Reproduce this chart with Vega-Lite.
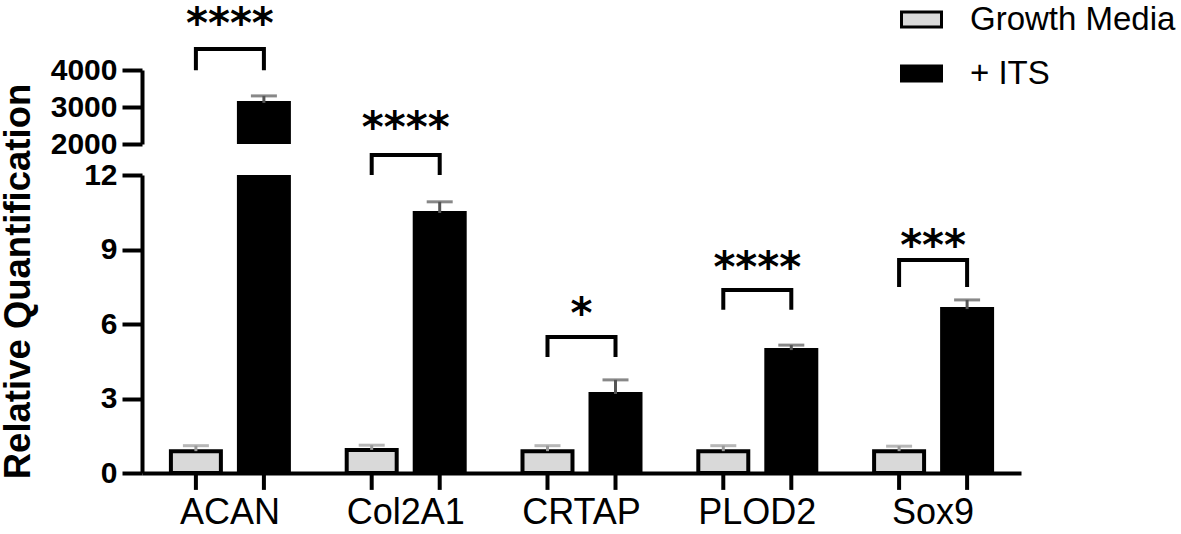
{
  "$schema": "https://vega.github.io/schema/vega-lite/v6.json",
  "background": "white",
  "autosize": {"type": "none"},
  "padding": {"left": 142, "top": 70, "right": 1039, "bottom": 464},
  "bounds": "flush",
  "spacing": 31,
  "config": {
    "font": "Liberation Sans",
    "view": {"stroke": null},
    "axis": {"domainColor": "#000000", "domainWidth": 4, "labelColor": "#000000", "titleColor": "#000000", "grid": false},
    "axisY": {"ticks": true, "tickSize": 20, "tickWidth": 4, "tickColor": "#000000", "tickOpacity": 1, "labelPadding": 5, "labelFontSize": 30, "labelFontWeight": "bold", "labelOverlap": false, "labelFlush": false, "titleFontSize": 36.5, "titleFontWeight": "bold", "titleAngle": -90, "titleAlign": "center", "titleBaseline": "middle"},
    "axisX": {"labelAngle": 0, "labelFontSize": 36, "ticks": false, "labelPadding": 22, "labelOverlap": false}
  },
  "datasets": {
    "bars": [
      {"gene": "ACAN", "treatment": "Growth Media", "mean": 0.88, "upper": 1.1},
      {"gene": "ACAN", "treatment": "+ ITS", "mean": 3110, "upper": 3300},
      {"gene": "Col2A1", "treatment": "Growth Media", "mean": 0.93, "upper": 1.12},
      {"gene": "Col2A1", "treatment": "+ ITS", "mean": 10.47, "upper": 10.92},
      {"gene": "CRTAP", "treatment": "Growth Media", "mean": 0.88, "upper": 1.1},
      {"gene": "CRTAP", "treatment": "+ ITS", "mean": 3.18, "upper": 3.75},
      {"gene": "PLOD2", "treatment": "Growth Media", "mean": 0.88, "upper": 1.1},
      {"gene": "PLOD2", "treatment": "+ ITS", "mean": 4.95, "upper": 5.15},
      {"gene": "Sox9", "treatment": "Growth Media", "mean": 0.88, "upper": 1.08},
      {"gene": "Sox9", "treatment": "+ ITS", "mean": 6.6, "upper": 6.97}
    ],
    "brackets": [
      {"gene": "ACAN", "treatment": "Growth Media", "y": 4050, "o": 1},
      {"gene": "ACAN", "treatment": "Growth Media", "y": 4570, "o": 2},
      {"gene": "ACAN", "treatment": "+ ITS", "y": 4570, "o": 3},
      {"gene": "ACAN", "treatment": "+ ITS", "y": 4050, "o": 4},
      {"gene": "Col2A1", "treatment": "Growth Media", "y": 12.08, "o": 1},
      {"gene": "Col2A1", "treatment": "Growth Media", "y": 12.81, "o": 2},
      {"gene": "Col2A1", "treatment": "+ ITS", "y": 12.81, "o": 3},
      {"gene": "Col2A1", "treatment": "+ ITS", "y": 12.08, "o": 4},
      {"gene": "CRTAP", "treatment": "Growth Media", "y": 4.75, "o": 1},
      {"gene": "CRTAP", "treatment": "Growth Media", "y": 5.48, "o": 2},
      {"gene": "CRTAP", "treatment": "+ ITS", "y": 5.48, "o": 3},
      {"gene": "CRTAP", "treatment": "+ ITS", "y": 4.75, "o": 4},
      {"gene": "PLOD2", "treatment": "Growth Media", "y": 6.65, "o": 1},
      {"gene": "PLOD2", "treatment": "Growth Media", "y": 7.37, "o": 2},
      {"gene": "PLOD2", "treatment": "+ ITS", "y": 7.37, "o": 3},
      {"gene": "PLOD2", "treatment": "+ ITS", "y": 6.65, "o": 4},
      {"gene": "Sox9", "treatment": "Growth Media", "y": 7.57, "o": 1},
      {"gene": "Sox9", "treatment": "Growth Media", "y": 8.58, "o": 2},
      {"gene": "Sox9", "treatment": "+ ITS", "y": 8.58, "o": 3},
      {"gene": "Sox9", "treatment": "+ ITS", "y": 7.57, "o": 4}
    ],
    "stars": [
      {"gene": "ACAN", "label": "****", "y": 5400},
      {"gene": "Col2A1", "label": "****", "y": 14.14},
      {"gene": "CRTAP", "label": "*", "y": 6.65},
      {"gene": "PLOD2", "label": "****", "y": 8.5},
      {"gene": "Sox9", "label": "***", "y": 9.4}
    ]
  },
  "vconcat": [
    {
      "width": 879,
      "height": 74,
      "layer": [
        {
          "data": {"name": "bars"},
          "mark": {"type": "bar", "clip": true, "stroke": "#000000", "strokeWidth": 4},
          "encoding": {
            "x": {"field": "gene", "type": "nominal", "axis": null, "scale": {"domain": ["ACAN", "Col2A1", "CRTAP", "PLOD2", "Sox9"], "paddingInner": 0, "paddingOuter": 0}},
            "xOffset": {"field": "treatment", "type": "nominal", "scale": {"domain": ["Growth Media", "+ ITS"], "paddingInner": 0.265, "paddingOuter": 0.425}},
            "y": {"field": "mean", "type": "quantitative", "scale": {"domain": [2000, 4000], "nice": false, "zero": false}, "axis": {"title": null, "values": [2000, 3000, 4000], "format": "d"}},
            "color": {"field": "treatment", "type": "nominal", "scale": {"domain": ["Growth Media", "+ ITS"], "range": ["#d9d9d9", "#000000"]}, "legend": {"orient": "none", "legendX": 758, "legendY": -72, "title": null, "labelFontSize": 33, "labelLimit": 400, "labelColor": "#000000", "symbolType": "M-1,-0.38H1V0.38H-1Z", "symbolSize": 1600, "symbolStrokeColor": "#000000", "symbolStrokeWidth": 3, "labelOffset": 27, "rowPadding": 15, "symbolOpacity": 1}}
          }
        },
        {
          "data": {"name": "bars"},
          "mark": {"type": "rule", "clip": true, "strokeWidth": 3},
          "encoding": {
            "x": {"field": "gene", "type": "nominal", "axis": null},
            "xOffset": {"field": "treatment", "type": "nominal"},
            "y": {"field": "mean", "type": "quantitative", "axis": {"title": null, "values": [2000, 3000, 4000], "format": "d"}},
            "y2": {"field": "upper"},
            "stroke": {"condition": {"test": "datum.treatment === 'Growth Media'", "value": "#999999"}, "value": "#555555"}
          }
        },
        {
          "data": {"name": "bars"},
          "mark": {"type": "tick", "clip": true, "orient": "horizontal", "thickness": 3, "size": 26},
          "encoding": {
            "x": {"field": "gene", "type": "nominal", "axis": null},
            "xOffset": {"field": "treatment", "type": "nominal"},
            "y": {"field": "upper", "type": "quantitative", "axis": {"title": null, "values": [2000, 3000, 4000], "format": "d"}},
            "color": {"condition": {"test": "datum.treatment === 'Growth Media'", "value": "#999999"}, "value": "#555555"}
          }
        },
        {
          "data": {"name": "brackets"},
          "transform": [{"filter": "datum.gene === 'ACAN'"}],
          "mark": {"type": "line", "color": "#000000", "strokeWidth": 4, "strokeCap": "square"},
          "encoding": {
            "x": {"field": "gene", "type": "nominal", "axis": null},
            "xOffset": {"field": "treatment", "type": "nominal"},
            "y": {"field": "y", "type": "quantitative", "axis": {"title": null, "values": [2000, 3000, 4000], "format": "d"}},
            "detail": {"field": "gene"},
            "order": {"field": "o", "type": "quantitative"}
          }
        },
        {
          "data": {"name": "stars"},
          "transform": [{"filter": "datum.gene === 'ACAN'"}],
          "mark": {"type": "text", "font": "DejaVu Sans", "fontWeight": "bold", "fontSize": 42, "baseline": "middle", "dy": 7, "color": "#000000"},
          "encoding": {
            "x": {"field": "gene", "type": "nominal", "axis": null},
            "y": {"field": "y", "type": "quantitative", "axis": {"title": null, "values": [2000, 3000, 4000], "format": "d"}},
            "text": {"field": "label"}
          }
        },
        {
          "mark": {"type": "tick", "orient": "horizontal", "thickness": 4, "size": 20, "color": "#000000"},
          "encoding": {
            "x": {"datum": "ACAN", "type": "nominal", "bandPosition": 0, "axis": null},
            "y": {"datum": 2000, "type": "quantitative", "axis": {"title": null, "values": [2000, 3000, 4000], "format": "d"}}
          }
        },
        {
          "mark": {"type": "tick", "orient": "horizontal", "thickness": 4, "size": 20, "xOffset": -10, "color": "#000000"},
          "encoding": {
            "x": {"datum": "ACAN", "type": "nominal", "bandPosition": 0, "axis": null},
            "y": {"datum": 3000, "type": "quantitative", "axis": {"title": null, "values": [2000, 3000, 4000], "format": "d"}}
          }
        },
        {
          "mark": {"type": "tick", "orient": "horizontal", "thickness": 4, "size": 20, "xOffset": -10, "color": "#000000"},
          "encoding": {
            "x": {"datum": "ACAN", "type": "nominal", "bandPosition": 0, "axis": null},
            "y": {"datum": 4000, "type": "quantitative", "axis": {"title": null, "values": [2000, 3000, 4000], "format": "d"}}
          }
        }
      ]
    },
    {
      "width": 879,
      "height": 298,
      "layer": [
        {
          "data": {"name": "bars"},
          "mark": {"type": "bar", "clip": true, "stroke": "#000000", "strokeWidth": 4},
          "encoding": {
            "x": {"field": "gene", "type": "nominal", "scale": {"domain": ["ACAN", "Col2A1", "CRTAP", "PLOD2", "Sox9"], "paddingInner": 0, "paddingOuter": 0}, "axis": {"title": null}},
            "xOffset": {"field": "treatment", "type": "nominal", "scale": {"domain": ["Growth Media", "+ ITS"], "paddingInner": 0.265, "paddingOuter": 0.425}},
            "y": {"field": "mean", "type": "quantitative", "scale": {"domain": [0, 12], "nice": false}, "axis": {"title": "Relative Quantification", "values": [0, 3, 6, 9, 12], "titleX": -124, "titleY": 106}},
            "color": {"field": "treatment", "type": "nominal", "scale": {"domain": ["Growth Media", "+ ITS"], "range": ["#d9d9d9", "#000000"]}, "legend": {"orient": "none", "legendX": 758, "legendY": -72, "title": null, "labelFontSize": 33, "labelLimit": 400, "labelColor": "#000000", "symbolType": "M-1,-0.38H1V0.38H-1Z", "symbolSize": 1600, "symbolStrokeColor": "#000000", "symbolStrokeWidth": 3, "labelOffset": 27, "rowPadding": 15, "symbolOpacity": 1}}
          }
        },
        {
          "data": {"name": "bars"},
          "mark": {"type": "rule", "clip": true, "strokeWidth": 3},
          "encoding": {
            "x": {"field": "gene", "type": "nominal", "axis": {"title": null}},
            "xOffset": {"field": "treatment", "type": "nominal"},
            "y": {"field": "mean", "type": "quantitative", "axis": {"title": "Relative Quantification", "values": [0, 3, 6, 9, 12], "titleX": -124, "titleY": 106}},
            "y2": {"field": "upper"},
            "stroke": {"condition": {"test": "datum.treatment === 'Growth Media'", "value": "#999999"}, "value": "#555555"}
          }
        },
        {
          "data": {"name": "bars"},
          "mark": {"type": "tick", "clip": true, "orient": "horizontal", "thickness": 3, "size": 26},
          "encoding": {
            "x": {"field": "gene", "type": "nominal", "axis": {"title": null}},
            "xOffset": {"field": "treatment", "type": "nominal"},
            "y": {"field": "upper", "type": "quantitative", "axis": {"title": "Relative Quantification", "values": [0, 3, 6, 9, 12], "titleX": -124, "titleY": 106}},
            "color": {"condition": {"test": "datum.treatment === 'Growth Media'", "value": "#999999"}, "value": "#555555"}
          }
        },
        {
          "data": {"name": "bars"},
          "mark": {"type": "rule", "strokeWidth": 4, "color": "#000000"},
          "encoding": {
            "x": {"field": "gene", "type": "nominal", "axis": {"title": null}},
            "xOffset": {"field": "treatment", "type": "nominal"},
            "y": {"datum": 0, "type": "quantitative", "axis": {"title": "Relative Quantification", "values": [0, 3, 6, 9, 12], "titleX": -124, "titleY": 106}},
            "y2": {"datum": -0.68}
          }
        },
        {
          "data": {"name": "brackets"},
          "transform": [{"filter": "datum.gene !== 'ACAN'"}],
          "mark": {"type": "line", "color": "#000000", "strokeWidth": 4, "strokeCap": "square"},
          "encoding": {
            "x": {"field": "gene", "type": "nominal", "axis": {"title": null}},
            "xOffset": {"field": "treatment", "type": "nominal"},
            "y": {"field": "y", "type": "quantitative", "axis": {"title": "Relative Quantification", "values": [0, 3, 6, 9, 12], "titleX": -124, "titleY": 106}},
            "detail": {"field": "gene"},
            "order": {"field": "o", "type": "quantitative"}
          }
        },
        {
          "data": {"name": "stars"},
          "transform": [{"filter": "datum.gene !== 'ACAN'"}],
          "mark": {"type": "text", "font": "DejaVu Sans", "fontWeight": "bold", "fontSize": 42, "baseline": "middle", "dy": 7, "color": "#000000"},
          "encoding": {
            "x": {"field": "gene", "type": "nominal", "axis": {"title": null}},
            "y": {"field": "y", "type": "quantitative", "axis": {"title": "Relative Quantification", "values": [0, 3, 6, 9, 12], "titleX": -124, "titleY": 106}},
            "text": {"field": "label"}
          }
        },
        {
          "mark": {"type": "tick", "orient": "horizontal", "thickness": 4, "size": 20, "color": "#000000"},
          "encoding": {
            "x": {"datum": "ACAN", "type": "nominal", "bandPosition": 0, "axis": {"title": null}},
            "y": {"datum": 12, "type": "quantitative", "axis": {"title": "Relative Quantification", "values": [0, 3, 6, 9, 12], "titleX": -124, "titleY": 106}}
          }
        },
        {
          "mark": {"type": "tick", "orient": "horizontal", "thickness": 4, "size": 20, "xOffset": -10, "color": "#000000"},
          "encoding": {
            "x": {"datum": "ACAN", "type": "nominal", "bandPosition": 0, "axis": {"title": null}},
            "y": {"datum": 9, "type": "quantitative", "axis": {"title": "Relative Quantification", "values": [0, 3, 6, 9, 12], "titleX": -124, "titleY": 106}}
          }
        },
        {
          "mark": {"type": "tick", "orient": "horizontal", "thickness": 4, "size": 20, "xOffset": -10, "color": "#000000"},
          "encoding": {
            "x": {"datum": "ACAN", "type": "nominal", "bandPosition": 0, "axis": {"title": null}},
            "y": {"datum": 6, "type": "quantitative", "axis": {"title": "Relative Quantification", "values": [0, 3, 6, 9, 12], "titleX": -124, "titleY": 106}}
          }
        },
        {
          "mark": {"type": "tick", "orient": "horizontal", "thickness": 4, "size": 20, "xOffset": -10, "color": "#000000"},
          "encoding": {
            "x": {"datum": "ACAN", "type": "nominal", "bandPosition": 0, "axis": {"title": null}},
            "y": {"datum": 3, "type": "quantitative", "axis": {"title": "Relative Quantification", "values": [0, 3, 6, 9, 12], "titleX": -124, "titleY": 106}}
          }
        },
        {
          "mark": {"type": "tick", "orient": "horizontal", "thickness": 4, "size": 20, "xOffset": -10, "color": "#000000"},
          "encoding": {
            "x": {"datum": "ACAN", "type": "nominal", "bandPosition": 0, "axis": {"title": null}},
            "y": {"datum": 0, "type": "quantitative", "axis": {"title": "Relative Quantification", "values": [0, 3, 6, 9, 12], "titleX": -124, "titleY": 106}}
          }
        }
      ]
    }
  ],
  "resolve": {"scale": {"color": "shared"}}
}
